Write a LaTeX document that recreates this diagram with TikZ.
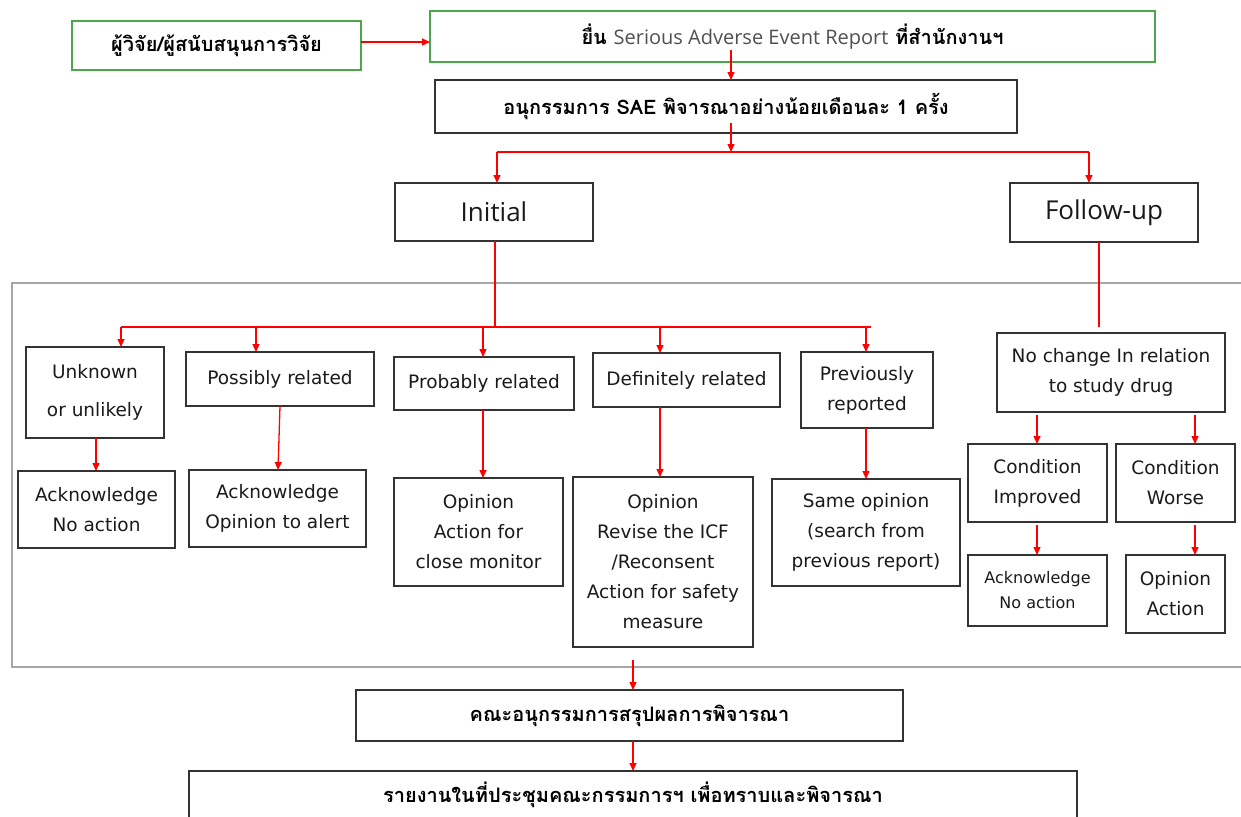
\documentclass[tikz,border=0pt]{standalone}
\usepackage{fontspec}
\setmainfont{DejaVu Sans}
\newfontfamily\thai[Script=Thai]{Loma}
\newfontfamily\osans{Open Sans}
\usetikzlibrary{arrows.meta}
\definecolor{boxc}{HTML}{333333}
\definecolor{greenc}{HTML}{4CA64C}
\definecolor{greyc}{HTML}{A6A6A6}
\definecolor{txtgray}{HTML}{505050}
\definecolor{txtc}{HTML}{1A1A1A}
\begin{document}
\begin{tikzpicture}[x=1pt,y=-1pt,
  every node/.style={inner sep=0pt, outer sep=0pt},
  box/.style={draw=boxc, line width=1.8pt, fill=white, align=center, text=txtc, font=\fontsize{18.5}{30}\selectfont},
  gbox/.style={draw=greenc, line width=1.8pt, fill=white, align=center},
  grp/.style={draw=greyc, line width=2.5pt},
  thaitxt/.style={text=black, font=\thai\bfseries\fontsize{20}{24}\selectfont},
  big/.style={font=\osans\fontsize{26}{30}\selectfont},
  arr/.style={draw=red, line width=1.3pt, -{Triangle[length=8pt,width=7pt]}},
  ln/.style={draw=red, line width=1.3pt}]
\useasboundingbox (0,0) rectangle (1241,816);
\clip (0,0) rectangle (1241,816);
% group frame
\node[grp, minimum width=1248pt, minimum height=384pt] (grp) at (636,475) {};
% top boxes
\node[gbox, thaitxt, minimum width=289pt, minimum height=49pt] (b1) at (216.5,45.5) {ผู้วิจัย/ผู้สนับสนุนการวิจัย};
\node[gbox, thaitxt, minimum width=725pt, minimum height=51pt] (b2) at (792.5,36.5) {ยื่น {\osans\mdseries\color{txtgray}Serious Adverse Event Report} ที่สำนักงานฯ};
\node[box, thaitxt, minimum width=582pt, minimum height=53pt] (b3) at (726,106.5) {อนุกรรมการ SAE พิจารณาอย่างน้อยเดือนละ 1 ครั้ง};
\node[box, big, minimum width=198pt, minimum height=58pt] (init) at (494,212) {Initial};
\node[box, big, minimum width=188pt, minimum height=59pt] (fol) at (1104,212.5) {Follow-up};
% first level
\node[box, minimum width=138pt, minimum height=91pt] (unk) at (95,392.5) {Unknown\\[8pt]or unlikely};
\node[box, minimum width=188pt, minimum height=54pt] (pos) at (280,379) {Possibly related};
\node[box, minimum width=180pt, minimum height=53pt] (prob) at (484,383.5) {Probably related};
\node[box, minimum width=187pt, minimum height=54pt] (def) at (686.5,380) {Definitely related};
\node[box, minimum width=132pt, minimum height=76pt] (prev) at (867,390) {Previously\\reported};
\node[box, minimum width=228pt, minimum height=79pt] (noch) at (1111,372.5) {No change In relation\\to study drug};
% second level
\node[box, minimum width=157pt, minimum height=77pt] (ack1) at (96.5,509.5) {Acknowledge\\No action};
\node[box, minimum width=177pt, minimum height=77pt] (ack2) at (277.5,508.5) {Acknowledge\\Opinion to alert};
\node[box, minimum width=169pt, minimum height=108pt] (opc) at (478.5,532) {Opinion\\Action for\\close monitor};
\node[box, minimum width=180pt, minimum height=170pt] (rev) at (663,562) {Opinion\\Revise the ICF\\/Reconsent\\Action for safety\\measure};
\node[box, minimum width=188pt, minimum height=107pt] (same) at (866,532.5) {Same opinion\\(search from\\previous report)};
\node[box, minimum width=139pt, minimum height=78pt] (cimp) at (1037.5,483) {Condition\\Improved};
\node[box, minimum width=119pt, minimum height=78pt] (cwor) at (1175.5,483) {Condition\\Worse};
\node[box, minimum width=139pt, minimum height=71pt, font=\fontsize{16}{25}\selectfont] (acks) at (1037.5,590.5) {Acknowledge\\No action};
\node[box, minimum width=99pt, minimum height=78pt] (opa) at (1175.5,594) {Opinion\\Action};
% bottom
\node[box, thaitxt, minimum width=547pt, minimum height=51pt] (sum) at (629.5,715.5) {คณะอนุกรรมการสรุปผลการพิจารณา};
\node[box, thaitxt, minimum width=888pt, minimum height=48pt] (rep) at (633,795) {รายงานในที่ประชุมคณะกรรมการฯ เพื่อทราบและพิจารณา};
% junction coordinates
\coordinate (s2) at (731,50);
\coordinate (s3) at (731,123);
\coordinate (j1) at (731,152);
\coordinate (jl) at (497,152);
\coordinate (jr) at (1089,152);
\coordinate (h1) at (495,327);
\coordinate (hl) at (121,327);
\coordinate (hr) at (871,327);
\coordinate (fe) at (1099,327);
\coordinate (gb) at (633,660);
% connectors
\draw[arr] (b1.east |- 0,42) -- (b2.west |- 0,42);
\draw[arr] (s2) -- (s2 |- b3.north);
\draw[arr] (s3) -- (j1);
\draw[ln] (jl) -- (jr);
\draw[arr] (jl) -- (jl |- init.north);
\draw[arr] (jr) -- (jr |- fol.north);
\draw[ln] (init.south -| h1) -- (h1);
\draw[ln] (hl) -- (hr);
\draw[arr] (hl) -- (hl |- unk.north);
\draw[arr] (256,327) -- (256,0 |- pos.north);
\draw[arr] (483,327) -- (483,0 |- prob.north);
\draw[arr] (660,327) -- (660,0 |- def.north);
\draw[arr] (866,327) -- (866,0 |- prev.north);
\draw[ln] (fol.south -| fe) -- (fe);
\draw[arr] (96,0 |- unk.south) -- (96,0 |- ack1.north);
\draw[arr] (280,0 |- pos.south) -- (278,0 |- ack2.north);
\draw[arr] (483,0 |- prob.south) -- (483,0 |- opc.north);
\draw[arr] (660,0 |- def.south) -- (660,0 |- rev.north);
\draw[arr] (866,0 |- prev.south) -- (866,0 |- same.north);
\draw[arr] (1037,415) -- (1037,0 |- cimp.north);
\draw[arr] (1195,415) -- (1195,0 |- cwor.north);
\draw[arr] (1037,525) -- (1037,0 |- acks.north);
\draw[arr] (1195,525) -- (1195,0 |- opa.north);
\draw[arr] (gb) -- (gb |- sum.north);
\draw[arr] (gb |- sum.south) -- (gb |- rep.north);
\end{tikzpicture}
\end{document}
